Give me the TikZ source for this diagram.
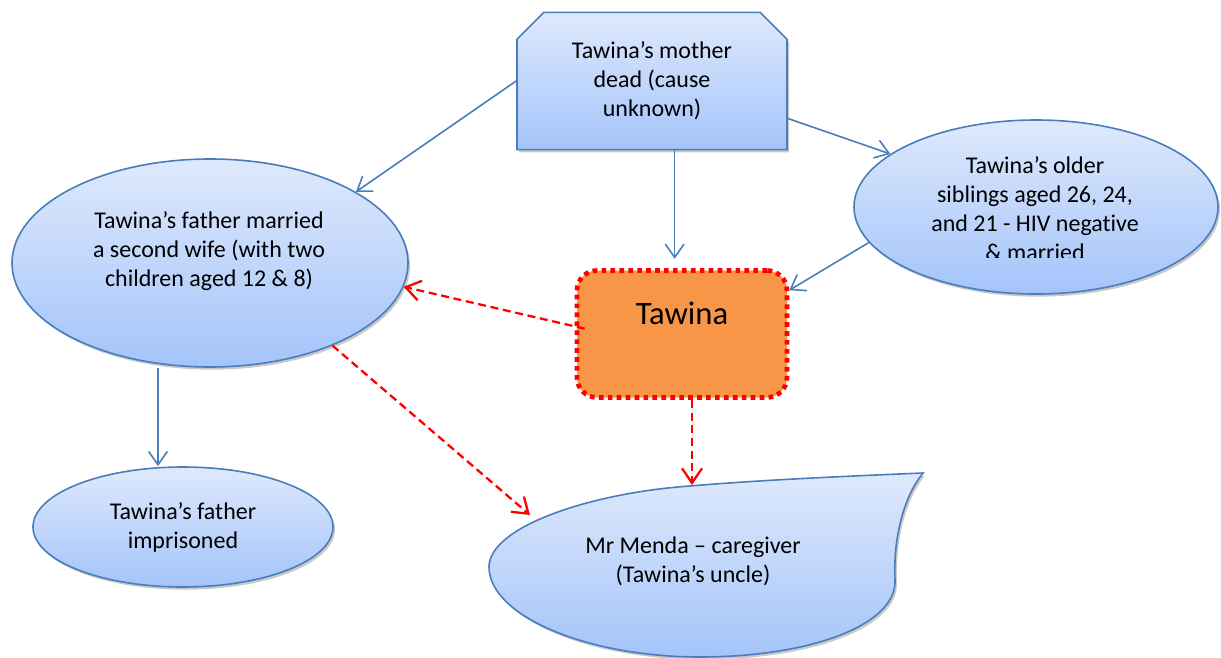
\documentclass[tikz,border=0pt]{standalone}
\usepackage{fontspec}
\setmainfont{Carlito}[Ligatures=NoCommon]
\usetikzlibrary{arrows.meta,shapes.geometric,shapes.misc,shadows,calc}
\definecolor{bord}{RGB}{74,126,187}
\definecolor{topc}{RGB}{222,233,252}
\definecolor{botc}{RGB}{164,196,250}
\definecolor{orng}{RGB}{247,150,70}
\begin{document}
\begin{tikzpicture}[x=0.75pt,y=-0.75pt,
  bubble/.style={draw=bord, line width=1.2pt, top color=topc, bottom color=botc,
    drop shadow={shadow xshift=1.5pt, shadow yshift=-2pt, opacity=0.3, fill=black!70}},
  txt/.style={font=\fontsize{18}{21.75}\selectfont, align=center, text=black},
  barrow/.style={draw=bord, line width=1.2pt, -{Straight Barb[length=10pt,width=14pt]}},
  rarrow/.style={draw=red, line width=1.7pt, dash pattern=on 6pt off 3.5pt, -{Straight Barb[length=11pt,width=15pt]}}]
\useasboundingbox (0,0) rectangle (1221,657);

% shapes
\node[bubble, chamfered rectangle, chamfered rectangle corners={north west,north east},
  chamfered rectangle xsep=17pt, minimum width=202.5pt, minimum height=103pt,
  inner sep=0pt, txt] (mom) at (652,81) {Tawina’s mother\\dead (cause\\unknown)};

\node[bubble, ellipse, minimum width=297pt, minimum height=156pt, inner sep=0pt] (fm) at (210,263) {};
\node[txt] (fmtext) at (209,251) {Tawina’s father married\\a second wife (with two\\children aged 12 \& 8)};

\node[bubble, ellipse, minimum width=273pt, minimum height=130.5pt, inner sep=0pt] (sib) at (1036,207) {};
\begin{scope}
\clip (840,100) rectangle (1221,257);
\node[txt] (sibtext) at (1035,209) {Tawina’s older\\siblings aged 26, 24,\\and 21 - HIV negative\\\& married};
\end{scope}

\node[bubble, ellipse, minimum width=225pt, minimum height=90pt, inner sep=0pt, txt] (imp) at (183,527) {Tawina’s father\\imprisoned};

\node[draw=red, line width=3.5pt, dash pattern=on 3.5pt off 3.2pt, rounded corners=15pt,
  fill=orng, minimum width=157.5pt, minimum height=95.25pt, inner sep=0pt] (taw) at (682,334) {};
\node[font=\fontsize{24.5}{28}\selectfont] (tawtext) at (682,313) {Tawina};

\path[bubble] (923,473) .. controls (850,476) and (760,480) .. (690,486)
  .. controls (590,493) and (489,527) .. (489,567)
  .. controls (489,615) and (585,657) .. (700,657)
  .. controls (810,657) and (897,625) .. (895,580)
  .. controls (893,535) and (905,495) .. (923,473) -- cycle;
\node[txt] (menda) at (693,561) {Mr Menda – caregiver\\(Tawina’s uncle)};
\coordinate (mleft) at (530,515);
\coordinate (mtop) at (692,485);

% connectors
\draw[barrow] (mom.west) -- (fm.26);
\draw[barrow] ([yshift=24pt]mom.south east) -- (sib.160);
\draw[barrow] ([xshift=17pt]mom.south) -- ([xshift=17pt,yshift=7pt]mom.south |- taw.north);
\draw[barrow] (sib.192) -- ([yshift=-16.5pt]taw.north east);
\draw[barrow] ([xshift=-39pt]fm.south) -- ([xshift=-39pt]fm.south |- imp.north);
\draw[rarrow] ([xshift=7.5pt,yshift=4pt]taw.west) -- (fm.-7);
\draw[rarrow] (fm.-34) -- (mleft);
\draw[rarrow] ([xshift=7.5pt]taw.south) -- (mtop);
\end{tikzpicture}
\end{document}
